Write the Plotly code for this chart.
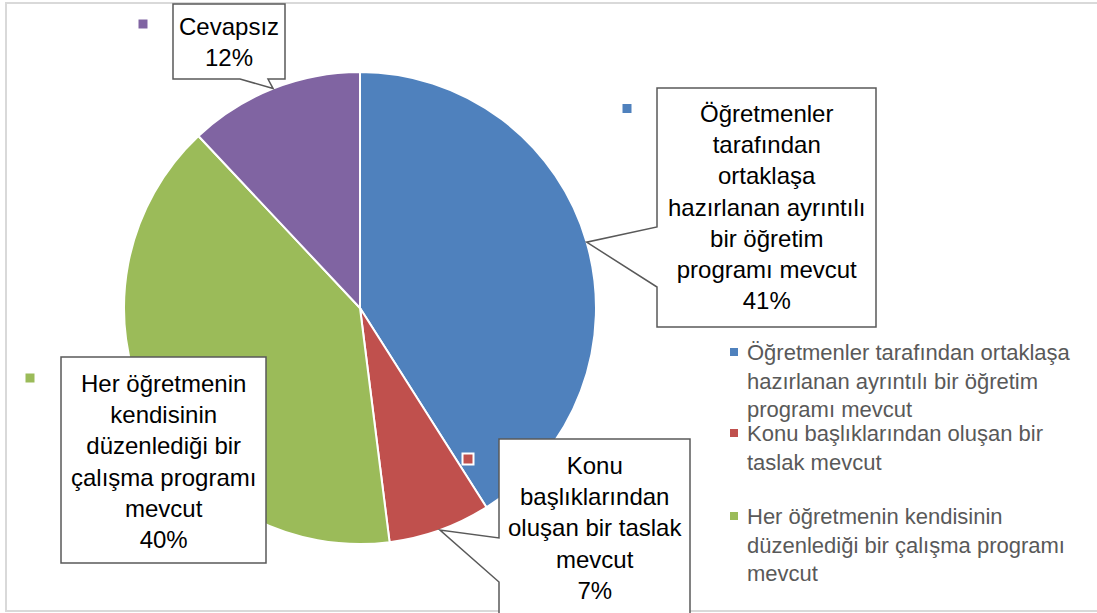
import plotly.graph_objects as go
import math

# ---- data ----
categories = [
    "Öğretmenler tarafından ortaklaşa hazırlanan ayrıntılı bir öğretim programı mevcut",
    "Konu başlıklarından oluşan bir taslak mevcut",
    "Her öğretmenin kendisinin düzenlediği bir çalışma programı mevcut",
    "Cevapsız",
]
values = [41, 7, 40, 12]
colors = ["#4F81BD", "#C0504D", "#9BBB59", "#8064A2"]
callout_lines = [
    ["Öğretmenler", "tarafından", "ortaklaşa", "hazırlanan ayrıntılı", "bir öğretim", "programı mevcut"],
    ["Konu", "başlıklarından", "oluşan bir taslak", "mevcut"],
    ["Her öğretmenin", "kendisinin", "düzenlediği bir", "çalışma programı", "mevcut"],
    ["Cevapsız"],
]
legend_lines = [
    ["Öğretmenler tarafından ortaklaşa", "hazırlanan ayrıntılı bir öğretim", "programı mevcut"],
    ["Konu başlıklarından oluşan bir", "taslak mevcut"],
    ["Her öğretmenin kendisinin", "düzenlediği bir çalışma programı", "mevcut"],
]

# ---- layout geometry (pixels) ----
W, H = 1097, 613
CX, CY, R = 360, 308, 236

def X(px):
    return px / W

def Y(py):
    return 1 - py / H

fig = go.Figure(go.Pie(
    labels=categories, values=values, sort=False, direction="clockwise", rotation=0,
    marker=dict(colors=colors, line=dict(color="white", width=2)),
    textinfo="none", showlegend=False,
    domain=dict(x=[X(CX - R), X(CX + R)], y=[Y(CY + R), Y(CY - R)]),
    hovertemplate="%{label}: %{percent}<extra></extra>",
))

total = sum(values)
pcts = [round(v / total * 100) for v in values]

# mid angles of slices (clockwise from 12 o'clock)
mids = []
cum = 0
for v in values:
    mids.append((cum + v / 2) / total * 2 * math.pi)
    cum += v
tips = [(CX + R * math.sin(a), CY - R * math.cos(a)) for a in mids]

# callout boxes: (x0, y0, x1, y1), tail side, tail base, key marker center
boxes = [
    dict(box=(657, 88, 876, 327), side="left", base=(227, 287), key=(627, 108.5), ty=207),
    dict(box=(499, 439, 690, 640), side="left", base=(538, 582), key=(468, 459), ty=528),
    dict(box=(61, 357, 266, 563), side=None, base=None, key=(30, 378), ty=461),
    dict(box=(173, 4, 285, 79), side="bottom", base=(240, 268), key=(143, 24), ty=42),
]

shapes = []
annotations = []

# chart border
shapes.append(dict(type="rect", xref="paper", yref="paper", x0=X(6), y0=Y(611), x1=X(1100), y1=Y(3),
                   line=dict(color="#D9D9D9", width=2), fillcolor="rgba(0,0,0,0)", layer="below"))

for i, b in enumerate(boxes):
    x0, y0, x1, y1 = b["box"]
    tx, ty = tips[i]
    if b["side"] == "left":
        ya, yb = b["base"]
        pts = [(x0, y0), (x1, y0), (x1, y1), (x0, y1), (x0, yb), (tx, ty), (x0, ya)]
    elif b["side"] == "bottom":
        xa, xb = b["base"]
        pts = [(x0, y0), (x1, y0), (x1, y1), (xb, y1), (tx, ty), (xa, y1), (x0, y1)]
    else:
        pts = [(x0, y0), (x1, y0), (x1, y1), (x0, y1)]
    path = "M " + " L ".join(f"{X(px):.5f},{Y(py):.5f}" for px, py in pts) + " Z"
    shapes.append(dict(type="path", xref="paper", yref="paper", path=path,
                       fillcolor="white", line=dict(color="#595959", width=1.5), layer="above"))
    kx, ky = b["key"]
    shapes.append(dict(type="rect", xref="paper", yref="paper",
                       x0=X(kx - 5.5), x1=X(kx + 5.5), y0=Y(ky + 5.5), y1=Y(ky - 5.5),
                       fillcolor=colors[i], line=dict(color="white", width=2), layer="above"))
    text = "<br>".join(callout_lines[i] + [f"{pcts[i]}%"])
    annotations.append(dict(x=X((x0 + x1) / 2), y=Y(b["ty"]), xref="paper", yref="paper",
                            text=text, showarrow=False, xanchor="center", yanchor="middle",
                            align="center", font=dict(size=24, color="black", family="Liberation Sans")))

# legend (manual, matching the truncated original legend)
legend_key_y = [352, 433, 516]
for i, lines in enumerate(legend_lines):
    ky = legend_key_y[i]
    shapes.append(dict(type="rect", xref="paper", yref="paper",
                       x0=X(730), x1=X(738), y0=Y(ky + 4), y1=Y(ky - 4),
                       fillcolor=colors[i], line=dict(width=0), layer="above"))
    annotations.append(dict(x=X(745), y=Y(ky - 14), xref="paper", yref="paper",
                            text="<br>".join(lines), showarrow=False, xanchor="left", yanchor="top",
                            align="left", font=dict(size=22, color="#595959", family="Liberation Sans")))

fig.update_layout(
    width=W, height=H, margin=dict(l=0, r=0, t=0, b=0),
    paper_bgcolor="white", plot_bgcolor="white",
    shapes=shapes, annotations=annotations,
    font=dict(family="Liberation Sans"),
)

fig.write_html("out.html", config={"displayModeBar": False},
               post_script="document.body.style.margin='0';document.body.style.overflow='hidden';")
